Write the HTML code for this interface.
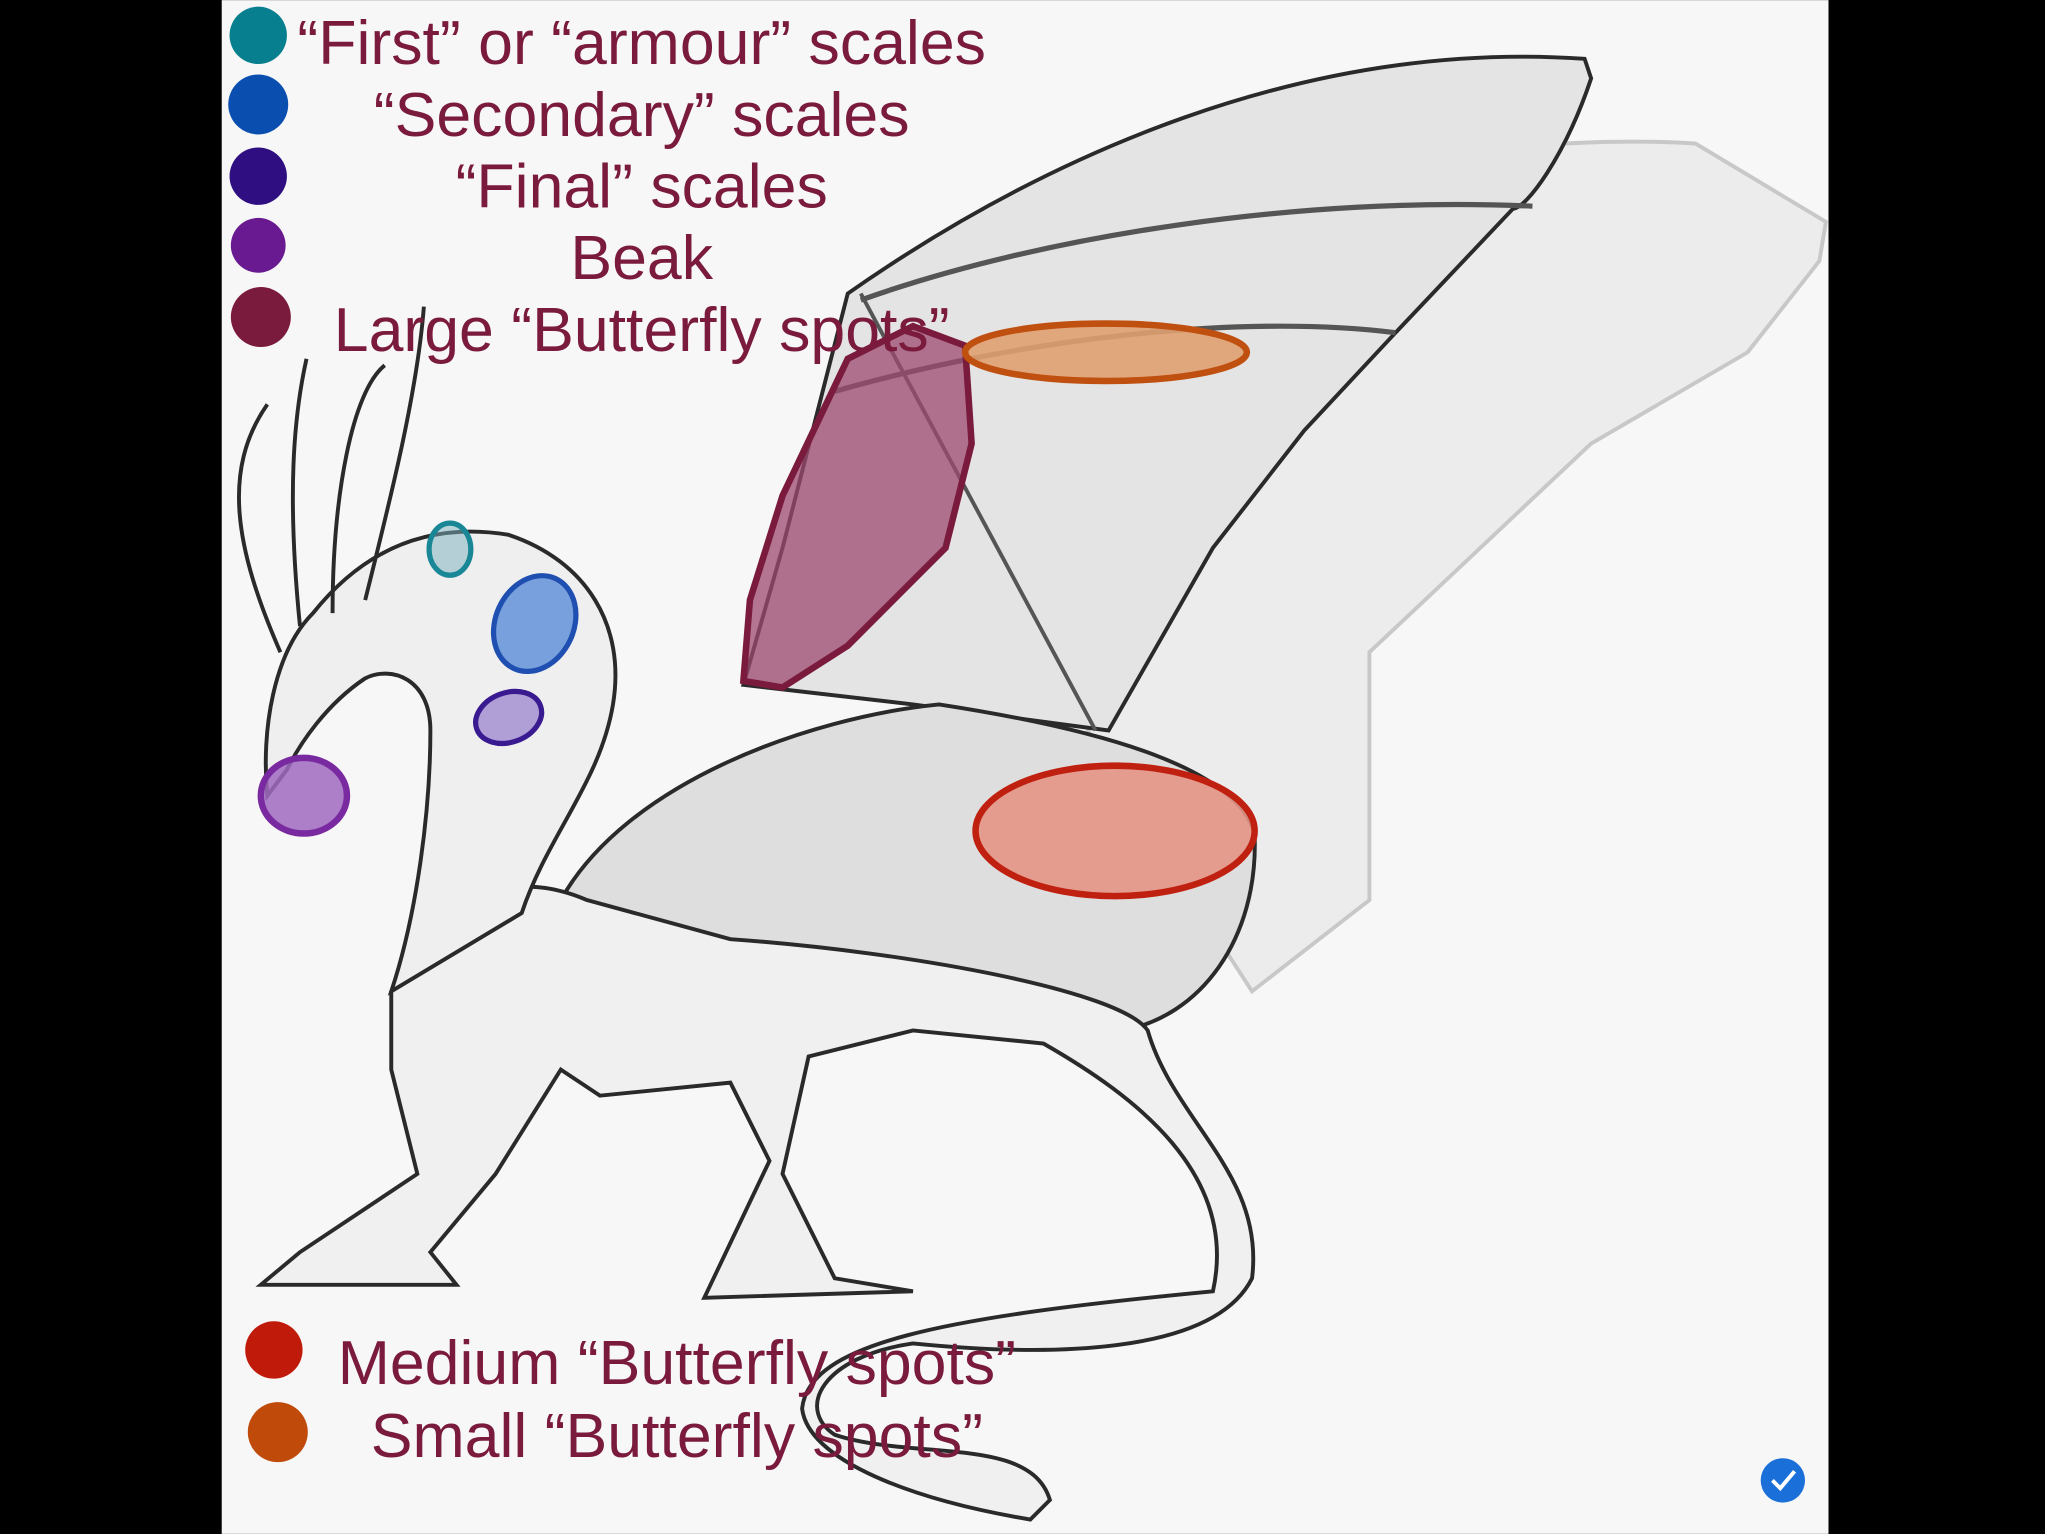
<!DOCTYPE html>
<html><head><meta charset="utf-8"><style>
html,body{margin:0;padding:0;background:#000;}
svg{display:block;}
text{font-family:"Liberation Sans",sans-serif;fill:#7a1a3c;}
</style></head><body>
<svg width="2045" height="1534" viewBox="0 0 1568 1176" xmlns="http://www.w3.org/2000/svg">
<rect x="0" y="0" width="1568" height="1176" fill="#000"/>
<rect x="170" y="0" width="1232" height="1176" fill="#f7f7f7"/>
<path d="M660,230 C900,140 1150,100 1300,110 L1400,170 L1395,200 L1340,270 L1220,340 L1050,500 L1050,690 L960,760 L850,590 Z" fill="#ececec" stroke="#c8c8c8" stroke-width="3"/>
<path d="M570,525 L600,420 L650,225 C800,120 1000,30 1215,45 L1220,60 C1200,120 1170,160 1160,160 L1070,255 L1000,330 L930,420 L850,560 L700,540 Z" fill="#e4e4e4" stroke="#2a2a2a" stroke-width="3"/>
<path d="M660,230 C800,180 1000,150 1175,158" fill="none" stroke="#555" stroke-width="4"/>
<path d="M640,300 C780,260 950,240 1070,255" fill="none" stroke="#555" stroke-width="4"/>
<path d="M660,225 L840,560" fill="none" stroke="#555" stroke-width="3"/>
<path d="M430,690 C480,600 620,550 720,540 C850,560 950,590 962,640 C965,720 920,780 860,790 L560,760 Z" fill="#dedede" stroke="#2a2a2a" stroke-width="3"/>
<path d="M300,760 C330,700 380,660 450,690 L560,720 C700,730 860,760 880,790 C900,860 970,900 960,980 C930,1040 800,1040 700,1030 C630,1040 610,1080 640,1100 C700,1120 790,1100 805,1150 L790,1165 C700,1150 620,1120 615,1080 C620,1030 720,1010 930,990 C950,900 870,840 800,800 L700,790 L620,810 L600,900 L640,980 L700,990 L540,995 L590,890 L560,830 L460,840 L430,820 L380,900 L330,960 L350,985 L200,985 L230,960 L320,900 L300,820 Z" fill="#f0f0f0" stroke="#2a2a2a" stroke-width="3"/>
<path d="M300,760 C320,700 330,620 330,560 C330,520 300,510 280,520 C250,540 230,570 220,590 L205,610 C200,560 210,500 240,470 C280,420 330,400 390,410 C450,430 480,480 470,540 C460,600 420,640 400,700 Z" fill="#efefef" stroke="#2a2a2a" stroke-width="3"/>
<path d="M215,500 C180,420 170,360 205,310 M230,480 C220,380 225,320 235,275 M255,470 C255,380 270,300 295,280 M280,460 C300,380 320,300 325,235" fill="none" stroke="#2a2a2a" stroke-width="3"/>
<ellipse cx="345" cy="421" rx="16" ry="20" fill="#7ab0bb" fill-opacity="0.5" stroke="#1a8797" stroke-width="4"/>
<ellipse cx="410" cy="478" rx="30" ry="38" transform="rotate(25 410 478)" fill="#5a8cd8" fill-opacity="0.8" stroke="#1f4fb0" stroke-width="4"/>
<ellipse cx="390" cy="550" rx="26" ry="19" transform="rotate(-20 390 550)" fill="#a08ad0" fill-opacity="0.8" stroke="#3a1a90" stroke-width="4"/>
<ellipse cx="233" cy="610" rx="33" ry="29" fill="#a06ac0" fill-opacity="0.85" stroke="#7a2aa0" stroke-width="5"/>
<path d="M570,522 L575,460 L600,380 L650,275 L700,250 L740,265 L745,340 L725,420 L650,495 L600,527 Z" fill="#9c4a70" fill-opacity="0.75" stroke="#7a1a3c" stroke-width="5"/>
<ellipse cx="848" cy="270" rx="108" ry="22" fill="#e0a070" fill-opacity="0.9" stroke="#c05010" stroke-width="5"/>
<ellipse cx="855" cy="637" rx="107" ry="50" fill="#e39585" fill-opacity="0.9" stroke="#c02010" stroke-width="5"/>
<circle cx="198" cy="27" r="22" fill="#087f8e"/>
<circle cx="198" cy="80" r="23" fill="#0a4fb0"/>
<circle cx="198" cy="135" r="22" fill="#2e0e80"/>
<circle cx="198" cy="188" r="21" fill="#6a1a90"/>
<circle cx="200" cy="243" r="23" fill="#7a1a3c"/>
<circle cx="210" cy="1035" r="22" fill="#c01a0a"/>
<circle cx="213" cy="1098" r="23" fill="#c04a0a"/>
<g font-size="48" text-anchor="middle">
<text x="492" y="49">“First” or “armour” scales</text>
<text x="492" y="104">“Secondary” scales</text>
<text x="492" y="159">“Final” scales</text>
<text x="492" y="214">Beak</text>
<text x="492" y="269">Large “Butterfly spots”</text>
<text x="519" y="1061">Medium “Butterfly spots”</text>
<text x="519" y="1117">Small “Butterfly spots”</text>
</g>
<circle cx="1367" cy="1135" r="17" fill="#1a6fd8"/>
<path d="M1359,1135 L1365,1141 L1376,1128" fill="none" stroke="#fff" stroke-width="3"/>
</svg>
</body></html>
